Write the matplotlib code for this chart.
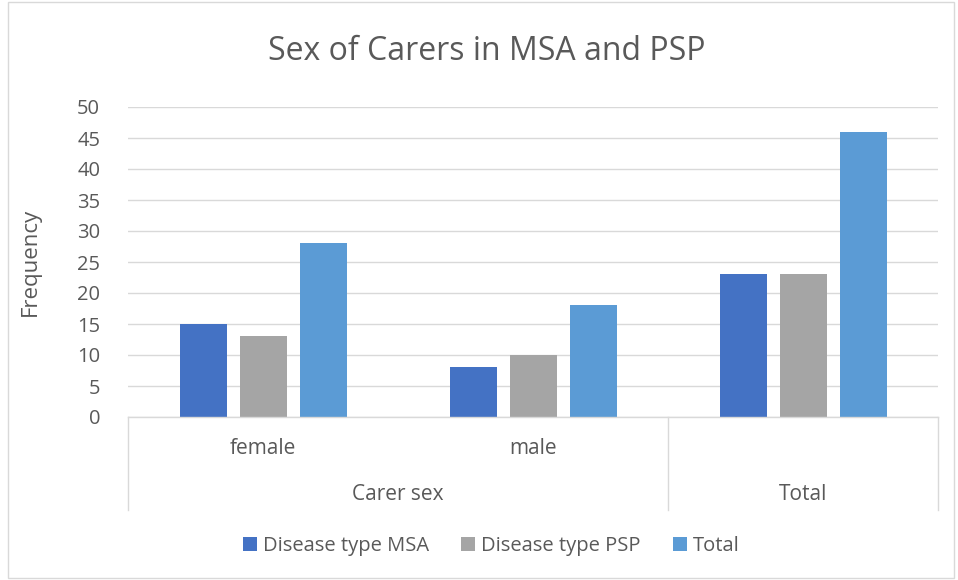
import numpy as np
import matplotlib
matplotlib.use("Agg")
import matplotlib.pyplot as plt
from matplotlib.patches import Rectangle
import matplotlib.transforms as mtransforms

plt.rcParams['font.family'] = ['Open Sans', 'DejaVu Sans']

# data
categories = ['female', 'male', '']
outer_labels = ['Carer sex', 'Total']
series_names = ['Disease type MSA', 'Disease type PSP', 'Total']
msa = [15, 8, 23]
psp = [13, 10, 23]
total = [28, 18, 46]
colors = ['#4472C4', '#A5A5A5', '#5B9BD5']
yticks = list(range(0, 55, 5))

text_col = '#595959'
grid_col = '#D9D9D9'

fig = plt.figure(figsize=(9.58, 5.80), dpi=100)
# outer chart border
fig.patches.append(Rectangle((0.008, 0.003), 0.988, 0.994, transform=fig.transFigure,
                             fill=False, edgecolor=grid_col, linewidth=1))

ax = fig.add_axes([128 / 958, 163 / 580, 810 / 958, 310 / 580])

x = np.arange(len(categories))
step = 60 / 270
width = 47 / 270
for i, (vals, name) in enumerate(zip([msa, psp, total], series_names)):
    ax.bar(x + (i - 1) * step, vals, width, color=colors[i], label=name, zorder=3)

ax.set_xlim(-0.5, 2.5)
ax.set_ylim(0, 50)
ax.set_yticks(yticks)
ax.tick_params(axis='y', length=0, labelsize=14.5, colors=text_col, pad=20)
ax.set_xticks([])
ax.grid(axis='y', color=grid_col, linewidth=1, zorder=0)
for s in ax.spines.values():
    s.set_visible(False)

# category axis line and separators
trans = mtransforms.blended_transform_factory(ax.transData, ax.transAxes)
ax.plot([-0.5, 2.5], [0, 0], transform=trans, color=grid_col, lw=1, clip_on=False, zorder=4)
for xs in [-0.5, 1.5, 2.5]:
    ax.plot([xs, xs], [0, -0.3], transform=trans, color=grid_col, lw=1, clip_on=False)

# inner labels
for xi, lab in zip(x, categories):
    ax.text(xi, -0.1, lab, transform=trans, ha='center', va='center', fontsize=15, color=text_col)
# outer labels
ax.text(0.5, -0.25, outer_labels[0], transform=trans, ha='center', va='center', fontsize=15, color=text_col)
ax.text(2.0, -0.25, outer_labels[1], transform=trans, ha='center', va='center', fontsize=15, color=text_col)

ax.set_ylabel('Frequency', fontsize=16, color=text_col, labelpad=26)
fig.text(0.508, 0.912, 'Sex of Carers in MSA and PSP', ha='center', va='center',
         fontsize=23, color=text_col)

fig.legend(loc='center', bbox_to_anchor=(0.513, 0.058), ncol=3, frameon=False,
           fontsize=14.5, labelcolor=text_col, handlelength=0.7, handleheight=0.7,
           handletextpad=0.3, columnspacing=1.6)

fig.savefig('out.png', dpi=100)
